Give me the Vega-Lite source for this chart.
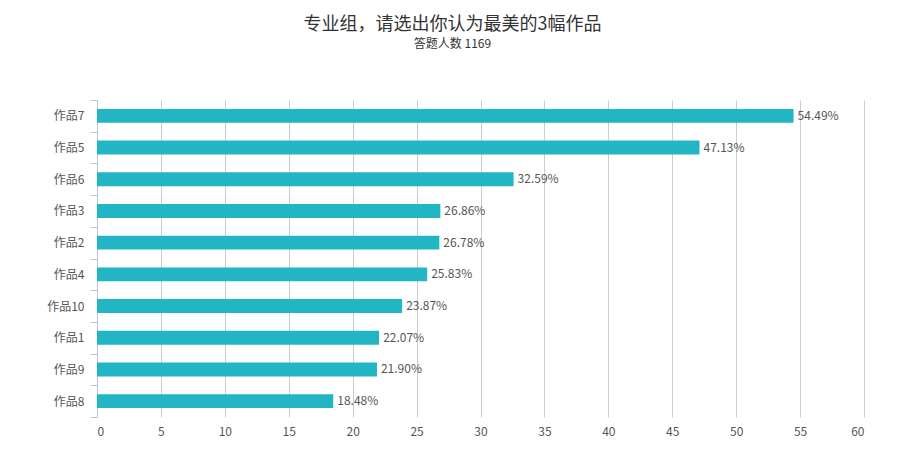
{
  "$schema": "https://vega.github.io/schema/vega-lite/v6.json",
  "autosize": "none",
  "width": 767,
  "height": 317,
  "padding": {"left": 97, "top": 100, "right": 41, "bottom": 56},
  "background": "white",
  "title": {
    "text": "专业组，请选出你认为最美的3幅作品",
    "subtitle": "答题人数 1169",
    "anchor": "middle",
    "frame": "group",
    "dx": -28,
    "offset": 44,
    "font": "Noto Sans CJK SC",
    "fontSize": 18,
    "fontWeight": "normal",
    "color": "#333333",
    "subtitleFont": "Noto Sans CJK SC",
    "subtitleFontSize": 12,
    "subtitleColor": "#333333",
    "subtitlePadding": 5
  },
  "data": {
    "values": [
      {"work": "作品7", "pct": 54.49},
      {"work": "作品5", "pct": 47.13},
      {"work": "作品6", "pct": 32.59},
      {"work": "作品3", "pct": 26.86},
      {"work": "作品2", "pct": 26.78},
      {"work": "作品4", "pct": 25.83},
      {"work": "作品10", "pct": 23.87},
      {"work": "作品1", "pct": 22.07},
      {"work": "作品9", "pct": 21.90},
      {"work": "作品8", "pct": 18.48}
    ]
  },
  "transform": [
    {"calculate": "format(datum.pct, '.2f') + '%'", "as": "label"}
  ],
  "encoding": {
    "y": {
      "field": "work",
      "type": "nominal",
      "sort": {"field": "pct", "order": "descending"},
      "scale": {"paddingInner": 0, "paddingOuter": 0},
      "axis": {
        "title": null,
        "tickBand": "extent",
        "tickSize": 7,
        "tickColor": "#b8c8d8",
        "domainColor": "#b8c8d8",
        "labelPadding": 6,
        "labelFont": "Noto Sans CJK SC",
        "labelFontSize": 12,
        "labelColor": "#555555"
      }
    },
    "x": {
      "field": "pct",
      "type": "quantitative",
      "scale": {"domain": [0, 60], "nice": false},
      "axis": {
        "title": null,
        "values": [0, 5, 10, 15, 20, 25, 30, 35, 40, 45, 50, 55, 60],
        "grid": true,
        "gridColor": "#cccccc",
        "domain": false,
        "ticks": false,
        "labelPadding": 9,
        "labelFont": "Noto Sans CJK SC",
        "labelFontSize": 12,
        "labelColor": "#555555"
      }
    }
  },
  "layer": [
    {
      "mark": {"type": "bar", "color": "#22b6c4", "height": {"band": 0.44}}
    },
    {
      "mark": {
        "type": "text",
        "align": "left",
        "baseline": "middle",
        "dx": 4,
        "font": "Noto Sans CJK SC",
        "fontSize": 12,
        "color": "#555555"
      },
      "encoding": {"text": {"field": "label"}}
    }
  ],
  "config": {
    "view": {"stroke": null}
  }
}
